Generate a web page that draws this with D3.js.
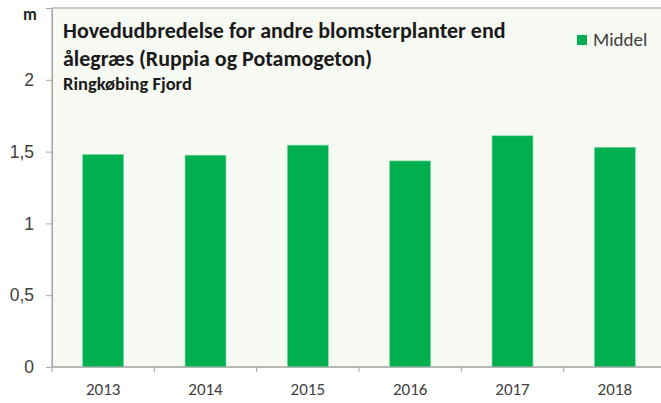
<!DOCTYPE html>
<html>
<head>
<meta charset="utf-8">
<script src="https://cdn.jsdelivr.net/npm/d3@7"></script>
<style>
	body { margin: 0; background: #fff; }
	svg { display: block; font-family: Carlito, Lato, "Open Sans", sans-serif; }
</style>
</head>
<body>
<svg id="chart" width="661" height="403"></svg>
<script>
// Hovedudbredelse (m) per year, Ringkøbing Fjord
const years = ['2013', '2014', '2015', '2016', '2017', '2018'];
const middel = [1.48, 1.475, 1.545, 1.435, 1.61, 1.53];
const yTicks = [0, 0.5, 1, 1.5, 2];
const titleLines = ['Hovedudbredelse for andre blomsterplanter end', 'ålegræs (Ruppia og Potamogeton)'];
const subtitle = 'Ringkøbing Fjord';
const seriesName = 'Middel';

(function () {
	const svg = d3.select('#chart');
	const plot = { left: 52, top: 8, right: 666, bottom: 367 };

	const x = d3.scaleBand().domain(years).range([plot.left, plot.right]).paddingInner(0.6).paddingOuter(0.3);
	const xTick = d3.scaleBand().domain(years).range([plot.left, plot.right]);
	const y = d3.scaleLinear().domain([0, 2.5]).range([plot.bottom, plot.top]);

	const green = '#00b050';
	const textColor = '#404040';

	// Plot area
	svg.append('rect')
		.attr('x', plot.left).attr('y', plot.top)
		.attr('width', plot.right - plot.left).attr('height', plot.bottom - plot.top)
		.attr('fill', '#f7f9f3').attr('stroke', '#a6a6a6').attr('stroke-width', 1.2);

	// Bars
	svg.selectAll('rect.bar').data(middel).join('rect')
		.attr('class', 'bar')
		.attr('x', (d, i) => x(years[i]))
		.attr('width', x.bandwidth())
		.attr('y', d => y(d))
		.attr('height', d => y(0) - y(d))
		.attr('fill', green)
		.attr('stroke', '#7fd9a4').attr('stroke-width', 0.6);

	// Y axis
	svg.append('g')
		.attr('transform', 'translate(' + plot.left + ',0)')
		.call(d3.axisLeft(y).tickValues(yTicks).tickSize(6).tickPadding(12)
			.tickFormat(d => String(d).replace('.', ',')))
		.call(ax => ax.select('.domain').attr('stroke', '#a6a6a6'))
		.call(ax => ax.selectAll('line').attr('stroke', '#a6a6a6'))
		.call(ax => ax.selectAll('text').attr('font-size', 17.5).attr('fill', textColor)
			.attr('font-family', 'inherit'));

	// X axis (ticks on category boundaries)
	const xa = svg.append('g').attr('transform', 'translate(0,' + plot.bottom + ')');
	xa.append('line').attr('x1', plot.left).attr('x2', plot.right)
		.attr('stroke', '#a6a6a6').attr('stroke-width', 1.2);
	xa.selectAll('line.tick').data(years).join('line')
		.attr('class', 'tick')
		.attr('x1', d => xTick(d)).attr('x2', d => xTick(d))
		.attr('y1', 0).attr('y2', 5).attr('stroke', '#a6a6a6');
	xa.selectAll('text').data(years).join('text')
		.attr('x', d => xTick(d) + xTick.bandwidth() / 2)
		.attr('y', 28).attr('text-anchor', 'middle')
		.attr('font-size', 17).attr('fill', textColor)
		.text(d => d);

	// Unit label
	svg.append('text').attr('x', 30).attr('y', 20).attr('text-anchor', 'middle')
		.attr('font-size', 17).attr('font-weight', 'bold').attr('fill', '#262626').text('m');

	// Title
	titleLines.forEach((t, i) => {
		svg.append('text').attr('x', 63).attr('y', 38 + i * 28)
			.attr('font-size', 22).attr('font-weight', 'bold').attr('fill', '#1a1a1a').text(t);
	});
	svg.append('text').attr('x', 63).attr('y', 90)
		.attr('font-size', 18.5).attr('font-weight', 'bold').attr('fill', '#1a1a1a').text(subtitle);

	// Legend
	const legend = svg.append('g').attr('transform', 'translate(577,35)');
	legend.append('rect').attr('width', 10).attr('height', 10).attr('fill', green);
	legend.append('text').attr('x', 16).attr('y', 11)
		.attr('font-size', 19).attr('fill', textColor).text(seriesName);
})();
</script>
</body>
</html>
